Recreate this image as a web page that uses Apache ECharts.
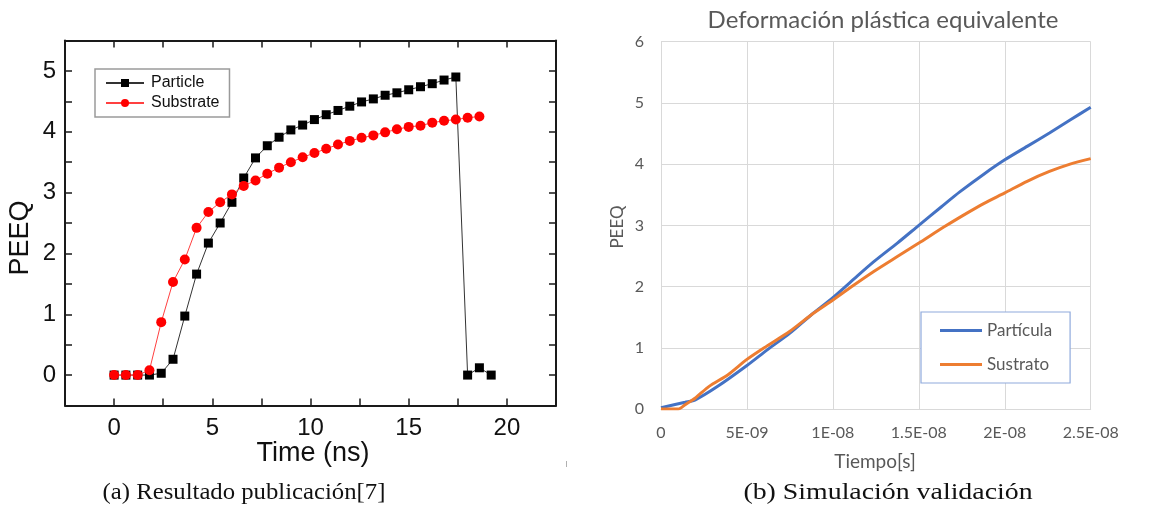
<!DOCTYPE html>
<html>
<head>
<meta charset="utf-8">
<title>PEEQ</title>
<script src="https://cdn.jsdelivr.net/npm/echarts@6/dist/echarts.min.js"></script>
<style>
  html, body { margin: 0; padding: 0; background: #ffffff; }
  #chart { width: 1153px; height: 514px; }
</style>
</head>
<body>
<div id="chart"></div>
<script>
// (a) published result: time in ns, PEEQ per sample
const pubParticleTime = [0, 0.6, 1.2, 1.8, 2.4, 3.0, 3.6, 4.2, 4.8, 5.4, 6.0, 6.6, 7.2, 7.8, 8.4, 9.0, 9.6,
  10.2, 10.8, 11.4, 12.0, 12.6, 13.2, 13.8, 14.4, 15.0, 15.6, 16.2, 16.8, 17.4, 18.0, 18.6, 19.2];
const pubParticlePeeq = [0, 0, 0, 0, 0.03, 0.26, 0.97, 1.66, 2.17, 2.50, 2.84, 3.24, 3.57, 3.77, 3.91, 4.03, 4.11,
  4.20, 4.28, 4.35, 4.42, 4.49, 4.54, 4.60, 4.64, 4.69, 4.74, 4.79, 4.85, 4.90, 0, 0.12, 0];
const pubSubstrateTime = [0, 0.6, 1.2, 1.8, 2.4, 3.0, 3.6, 4.2, 4.8, 5.4, 6.0, 6.6, 7.2, 7.8, 8.4, 9.0, 9.6,
  10.2, 10.8, 11.4, 12.0, 12.6, 13.2, 13.8, 14.4, 15.0, 15.6, 16.2, 16.8, 17.4, 18.0, 18.6];
const pubSubstratePeeq = [0, 0, 0, 0.08, 0.87, 1.53, 1.90, 2.42, 2.68, 2.84, 2.97, 3.11, 3.20, 3.31, 3.41, 3.50, 3.58,
  3.65, 3.72, 3.79, 3.85, 3.90, 3.94, 3.99, 4.04, 4.08, 4.10, 4.15, 4.18, 4.20, 4.23, 4.25];

// (b) validation simulation: time in units of 1E-09 s
const simParticleTime = [0, 1.4, 2.0, 3.3, 5.0, 6.2, 7.5, 8.75, 10.0, 11.25, 12.4, 13.75, 15.0, 16.3, 17.4, 18.8, 20.0, 21.3, 22.6, 23.8, 25.0];
const simParticlePeeq = [0.02, 0.11, 0.15, 0.37, 0.71, 0.97, 1.24, 1.54, 1.82, 2.13, 2.41, 2.71, 3.00, 3.30, 3.55, 3.84, 4.07, 4.29, 4.51, 4.72, 4.93];
const simSubstrateTime = [0, 1.0, 1.4, 2.0, 2.8, 3.9, 5.0, 6.0, 7.5, 8.75, 10.0, 11.1, 12.4, 13.75, 15.0, 16.5, 17.8, 18.8, 20.0, 21.3, 22.6, 23.8, 25.0];
const simSubstratePeeq = [0, 0, 0.07, 0.18, 0.37, 0.56, 0.81, 1.0, 1.27, 1.54, 1.78, 2.0, 2.25, 2.49, 2.71, 2.98, 3.2, 3.36, 3.53, 3.72, 3.88, 4.0, 4.09];

const simTimeTickLabels = ['0', '5E-09', '1E-08', '1.5E-08', '2E-08', '2.5E-08'];

const zip = (xs, ys) => xs.map((x, i) => [x, ys[i]]);

const ARIAL = '"Liberation Sans", Arial, sans-serif';
const CALIBRI = 'Lato, "Open Sans", sans-serif';
const SERIF = '"Liberation Serif", "DejaVu Serif", serif';
const FRAME = '#1a1a1a';
const EXCEL_GREY = '#595959';
const EXCEL_GRID = '#d9d9d9';

const chart = echarts.init(document.getElementById('chart'), null, { renderer: 'canvas' });

const frameAxisCommon = {
  gridIndex: 0,
  type: 'value',
  axisLine: { show: true, onZero: false, lineStyle: { color: FRAME, width: 2 } },
  axisTick: { show: true, inside: true, length: 7, lineStyle: { color: FRAME, width: 1.5 } },
  splitLine: { show: false }
};

const option = {
  backgroundColor: '#ffffff',
  animation: false,
  grid: [
    { left: 65, top: 40.5, width: 491, height: 365 },
    { left: 661, top: 41.7, width: 429.7, height: 367.3 }
  ],
  xAxis: [
    Object.assign({}, frameAxisCommon, {
      position: 'bottom', min: -2.5, max: 22.5, interval: 2.5,
      axisLabel: {
        margin: 11, color: '#111', fontFamily: ARIAL, fontSize: 24,
        formatter: v => (Math.abs(v % 5) < 1e-9 ? String(v) : '')
      }
    }),
    Object.assign({}, frameAxisCommon, {
      position: 'top', min: -2.5, max: 22.5, interval: 2.5,
      axisLabel: { show: false }
    }),
    {
      gridIndex: 1, type: 'value', min: 0, max: 25, interval: 5,
      axisLine: { show: true, lineStyle: { color: EXCEL_GRID, width: 1 } },
      axisTick: { show: false },
      splitLine: { show: true, lineStyle: { color: EXCEL_GRID, width: 1 } },
      axisLabel: {
        margin: 16, color: EXCEL_GREY, fontFamily: CALIBRI, fontSize: 16,
        formatter: v => simTimeTickLabels[Math.round(v / 5)]
      }
    }
  ],
  yAxis: [
    Object.assign({}, frameAxisCommon, {
      position: 'left', min: -0.5, max: 5.5, interval: 0.5,
      axisLabel: {
        margin: 9, color: '#111', fontFamily: ARIAL, fontSize: 24,
        formatter: v => (Math.abs(v - Math.round(v)) < 1e-9 ? String(Math.round(v)) : '')
      }
    }),
    Object.assign({}, frameAxisCommon, {
      position: 'right', min: -0.5, max: 5.5, interval: 0.5,
      axisLabel: { show: false }
    }),
    {
      gridIndex: 1, type: 'value', min: 0, max: 6, interval: 1,
      axisLine: { show: false },
      axisTick: { show: false },
      splitLine: { show: true, lineStyle: { color: EXCEL_GRID, width: 1 } },
      axisLabel: { margin: 17, color: EXCEL_GREY, fontFamily: CALIBRI, fontSize: 16 }
    }
  ],
  legend: [
    {
      data: ['Particle', 'Substrate'],
      orient: 'vertical', left: 95, top: 69,
      padding: [6, 10, 6, 10], itemGap: 4,
      itemWidth: 38, itemHeight: 10,
      backgroundColor: '#ffffff',
      borderColor: '#9a9a9a', borderWidth: 1.5,
      textStyle: { fontFamily: ARIAL, fontSize: 16, color: '#111', padding: [0, 0, 0, 2] }
    },
    {
      data: [
        { name: 'Partícula', icon: 'rect' },
        { name: 'Sustrato', icon: 'rect' }
      ],
      orient: 'vertical', left: 921, top: 312,
      padding: [10, 18, 10, 19], itemGap: 17,
      itemWidth: 42, itemHeight: 3,
      backgroundColor: '#ffffff',
      borderColor: '#8faadc', borderWidth: 1.2,
      textStyle: { fontFamily: CALIBRI, fontSize: 17, color: EXCEL_GREY, lineHeight: 14 }
    }
  ],
  series: [
    {
      name: 'Particle', type: 'line', xAxisIndex: 0, yAxisIndex: 0,
      data: zip(pubParticleTime, pubParticlePeeq),
      symbol: 'rect', symbolSize: 9,
      itemStyle: { color: '#000000' },
      lineStyle: { color: '#333333', width: 1 }
    },
    {
      name: 'Substrate', type: 'line', xAxisIndex: 0, yAxisIndex: 0,
      data: zip(pubSubstrateTime, pubSubstratePeeq),
      symbol: 'circle', symbolSize: 10,
      itemStyle: { color: '#ff0000' },
      lineStyle: { color: '#ff4040', width: 1 }
    },
    {
      name: 'Partícula', type: 'line', xAxisIndex: 2, yAxisIndex: 2,
      data: zip(simParticleTime, simParticlePeeq),
      symbol: 'none', smooth: 0.25,
      itemStyle: { color: '#4472c4' },
      lineStyle: { color: '#4472c4', width: 3 }
    },
    {
      name: 'Sustrato', type: 'line', xAxisIndex: 2, yAxisIndex: 2,
      data: zip(simSubstrateTime, simSubstratePeeq),
      symbol: 'none', smooth: 0.25,
      itemStyle: { color: '#ed7d31' },
      lineStyle: { color: '#ed7d31', width: 3 }
    }
  ],
  graphic: [
    // axis titles of panel (a)
    { type: 'text', x: 21, y: 238, rotation: Math.PI / 2,
      style: { text: 'PEEQ', font: '27px ' + ARIAL, fill: '#111', align: 'center', verticalAlign: 'middle' } },
    { type: 'text', x: 313, y: 454,
      style: { text: 'Time (ns)', font: '27px ' + ARIAL, fill: '#111', align: 'center', verticalAlign: 'middle' } },
    // title and axis titles of panel (b)
    { type: 'text', x: 883, y: 20,
      style: { text: 'Deformación plástica equivalente', font: '24px ' + CALIBRI, fill: EXCEL_GREY, align: 'center', verticalAlign: 'middle' } },
    { type: 'text', x: 618, y: 227, rotation: Math.PI / 2,
      style: { text: 'PEEQ', font: '17px ' + CALIBRI, fill: EXCEL_GREY, align: 'center', verticalAlign: 'middle' } },
    { type: 'text', x: 875, y: 462,
      style: { text: 'Tiempo[s]', font: '19px ' + CALIBRI, fill: EXCEL_GREY, align: 'center', verticalAlign: 'middle' } },
    // small edge mark of panel (a)
    { type: 'line', shape: { x1: 566.5, y1: 461, x2: 566.5, y2: 467 },
      style: { stroke: '#b0b0b0', lineWidth: 1 } },
    // subfigure captions
    { type: 'text', x: 244, y: 493, scaleX: 1.03,
      style: { text: '(a) Resultado publicación[7]', font: '24px ' + SERIF, fill: '#111', align: 'center', verticalAlign: 'middle' } },
    { type: 'text', x: 888, y: 493, scaleX: 1.16,
      style: { text: '(b) Simulación validación', font: '24px ' + SERIF, fill: '#111', align: 'center', verticalAlign: 'middle' } }
  ]
};

chart.setOption(option);
</script>
</body>
</html>
